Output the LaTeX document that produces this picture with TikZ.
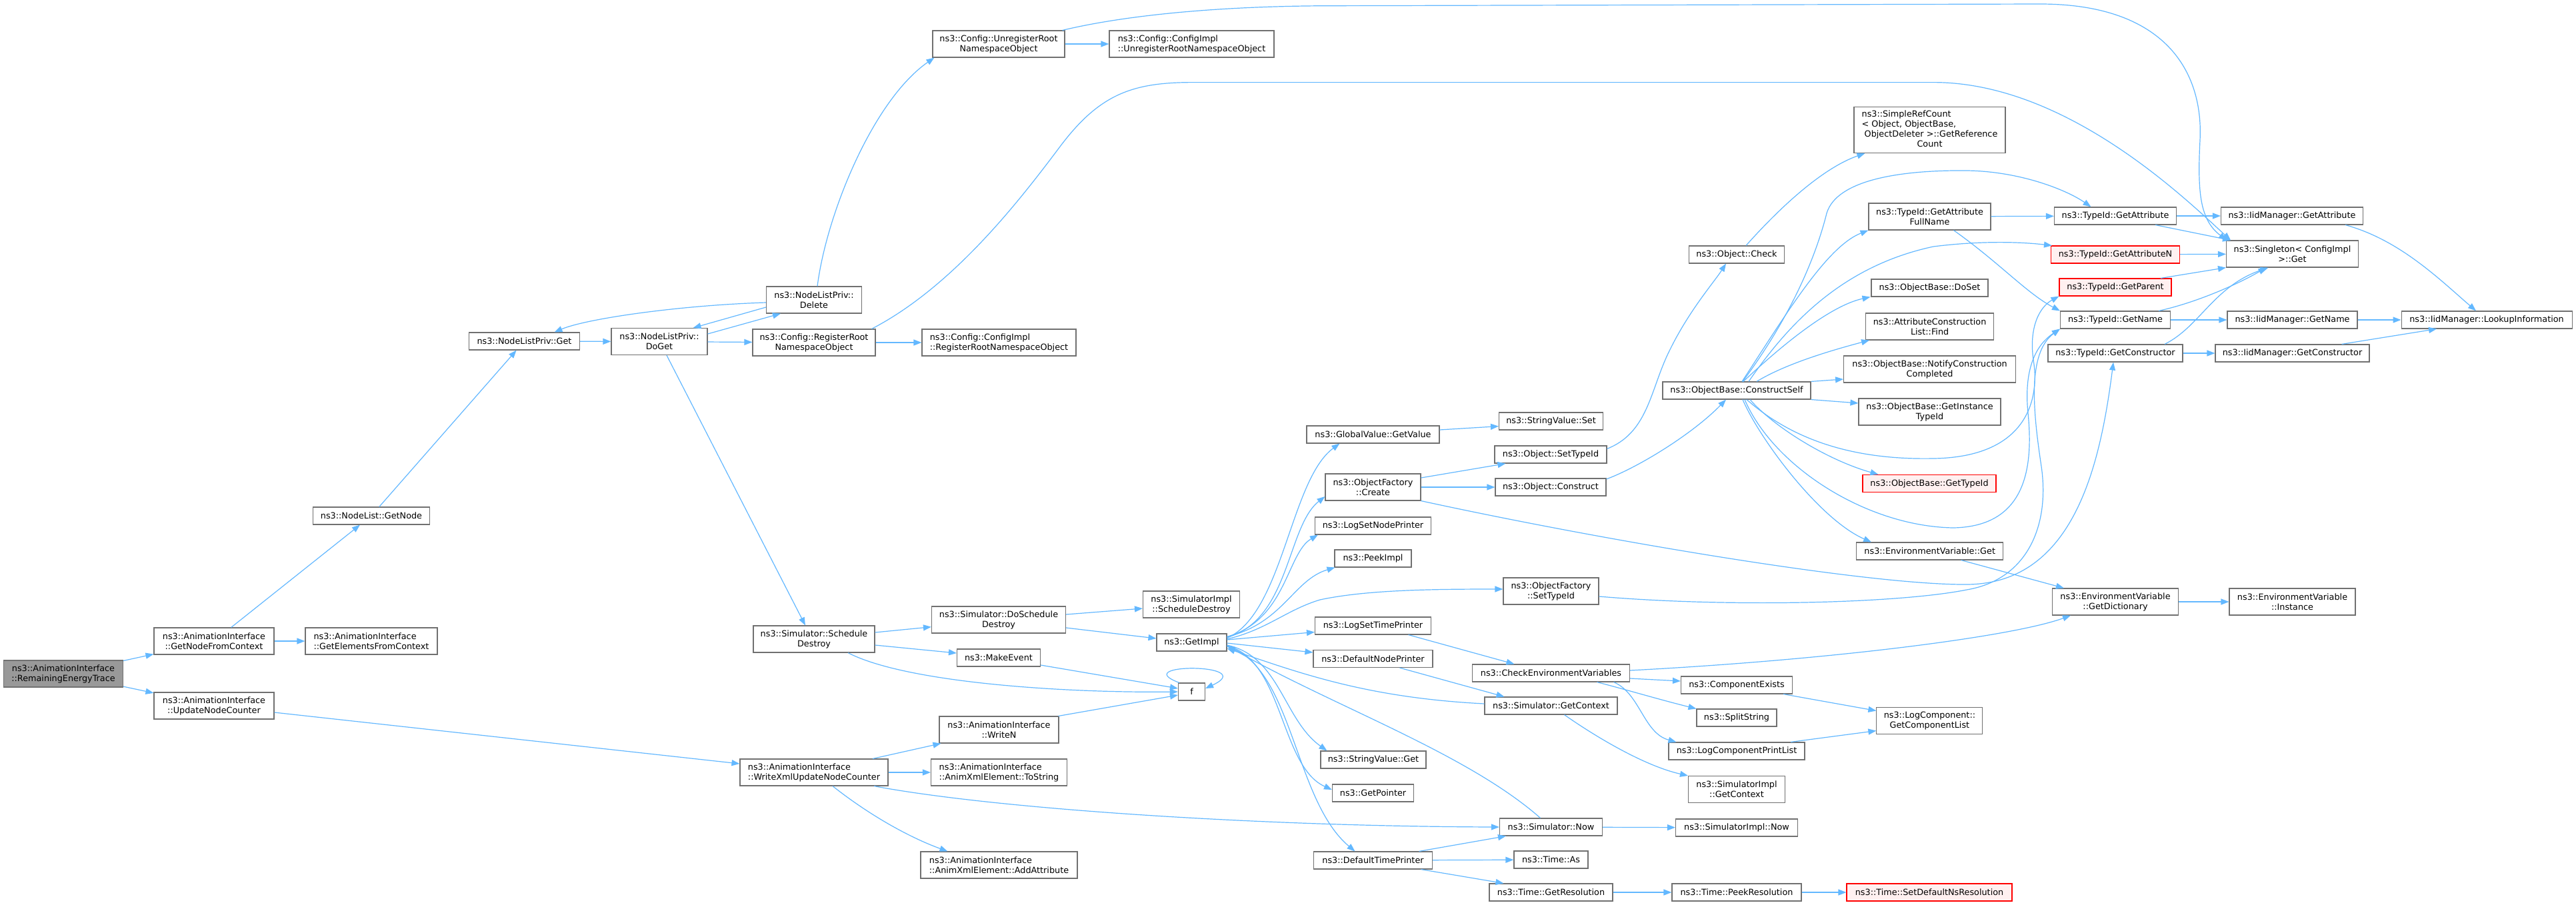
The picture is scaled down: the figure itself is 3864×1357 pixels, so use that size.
\documentclass[tikz,border=0pt]{standalone}
\usepackage{fontspec}
\setmainfont{DejaVu Sans}
\usetikzlibrary{arrows.meta}
\definecolor{edgec}{HTML}{63B8FF}
\definecolor{bordc}{HTML}{707070}
\definecolor{rootf}{HTML}{999999}
\definecolor{redf}{HTML}{FFF0F0}
\begin{document}
\begin{tikzpicture}[x=1pt,y=-1pt,
 nbox/.style={draw=bordc,fill=white,line width=1.1pt,inner sep=0pt,minimum height=26pt,align=center,font=\fontsize{12.8}{15}\selectfont},
 tw/.style={minimum height=40pt},
 lft/.style={align=left},
 rbox/.style={draw=red,fill=redf},
 mw/.style={minimum width=#1},
 edg/.style={draw=edgec,line width=1.2pt,-{Triangle[length=12pt,width=9pt]}}]
\useasboundingbox[fill=white] (0,0) rectangle (3864,1357);
% ---------------- nodes ----------------
\node[nbox,tw,mw=179pt,fill=rootf,draw=bordc] (ret) at (95,1011) {ns3::AnimationInterface\\::RemainingEnergyTrace};
\node[nbox,tw,mw=180pt] (gnfc) at (321,962) {ns3::AnimationInterface\\::GetNodeFromContext};
\node[nbox,tw,mw=180pt] (unc) at (321,1059) {ns3::AnimationInterface\\::UpdateNodeCounter};
\node[nbox,tw,lft,mw=198pt] (gefc) at (557,962) {ns3::AnimationInterface\\::GetElementsFromContext};
\node[nbox,mw=175pt] (getnode) at (557,774) {ns3::NodeList::GetNode};
\node[nbox,mw=166pt] (nlpget) at (786.5,512) {ns3::NodeListPriv::Get};
\node[nbox,tw,mw=144pt] (doget) at (989,512.6) {ns3::NodeListPriv::\\DoGet};
\node[nbox,tw,mw=143pt] (delete) at (1221,450) {ns3::NodeListPriv::\\Delete};
\node[nbox,tw,mw=184pt] (regroot) at (1221,514) {ns3::Config::RegisterRoot\\NamespaceObject};
\node[nbox,tw,mw=198pt] (unreg) at (1498,66) {ns3::Config::UnregisterRoot\\NamespaceObject};
\node[nbox,tw,lft,mw=247pt] (ciunreg) at (1787.5,66) {ns3::Config::ConfigImpl\\::UnregisterRootNamespaceObject};
\node[nbox,tw,lft,mw=231pt] (ciregroot) at (1498.5,514) {ns3::Config::ConfigImpl\\::RegisterRootNamespaceObject};
\node[nbox,tw,mw=182pt] (sdestroy) at (1221,959) {ns3::Simulator::Schedule\\Destroy};
\node[nbox,tw,lft,mw=222pt] (wxunc) at (1221,1159) {ns3::AnimationInterface\\::WriteXmlUpdateNodeCounter};
\node[nbox,tw,mw=201pt] (dosd) at (1498,930) {ns3::Simulator::DoSchedule\\Destroy};
\node[nbox,mw=125pt] (makeevent) at (1498,987) {ns3::MakeEvent};
\node[nbox,tw,mw=179pt] (writen) at (1498.5,1095) {ns3::AnimationInterface\\::WriteN};
\node[nbox,tw,lft,mw=204pt] (tostring) at (1498.5,1159) {ns3::AnimationInterface\\::AnimXmlElement::ToString};
\node[nbox,tw,lft,mw=235pt] (addattr) at (1498.5,1298) {ns3::AnimationInterface\\::AnimXmlElement::AddAttribute};
\node[nbox,tw,mw=145pt] (sisd) at (1787,907) {ns3::SimulatorImpl\\::ScheduleDestroy};
\node[nbox,mw=105pt] (getimpl) at (1787.5,964) {ns3::GetImpl};
\node[nbox,mw=40pt] (f) at (1787.5,1038) {f};
\node[nbox,mw=199pt] (gvget) at (2059.5,652) {ns3::GlobalValue::GetValue};
\node[nbox,tw,mw=143pt] (ofcreate) at (2059.5,731) {ns3::ObjectFactory\\::Create};
\node[nbox,mw=174pt] (lsnp) at (2059.5,789) {ns3::LogSetNodePrinter};
\node[nbox,mw=115pt] (peekimpl) at (2059.5,838) {ns3::PeekImpl};
\node[nbox,mw=174pt] (lstp) at (2059.5,939) {ns3::LogSetTimePrinter};
\node[nbox,mw=179pt] (dnp) at (2059.5,988.5) {ns3::DefaultNodePrinter};
\node[nbox,mw=158pt] (svget) at (2060,1140) {ns3::StringValue::Get};
\node[nbox,mw=122pt] (getptr) at (2059.5,1190) {ns3::GetPointer};
\node[nbox,mw=178pt] (dtp) at (2059.5,1291) {ns3::DefaultTimePrinter};
\node[nbox,mw=156pt] (svset) at (2326.5,632) {ns3::StringValue::Set};
\node[nbox,mw=168pt] (objsettid) at (2326,682) {ns3::Object::SetTypeId};
\node[nbox,mw=166pt] (objconstruct) at (2326,731) {ns3::Object::Construct};
\node[nbox,tw,mw=143pt] (ofsettid) at (2326.5,887) {ns3::ObjectFactory\\::SetTypeId};
\node[nbox,mw=236pt] (cev) at (2326.5,1010) {ns3::CheckEnvironmentVariables};
\node[nbox,mw=199pt] (simgetctx) at (2326.5,1059) {ns3::Simulator::GetContext};
\node[nbox,mw=154pt] (simnow) at (2326.5,1241) {ns3::Simulator::Now};
\node[nbox,mw=111pt] (timeas) at (2326.5,1290) {ns3::Time::As};
\node[nbox,mw=185pt] (timegetres) at (2326.5,1339) {ns3::Time::GetResolution};
\node[nbox,mw=143pt] (objcheck) at (2605,382) {ns3::Object::Check};
\node[nbox,mw=222pt] (constructself) at (2605,586) {ns3::ObjectBase::ConstructSelf};
\node[nbox,mw=167pt] (compexists) at (2605,1028) {ns3::ComponentExists};
\node[nbox,mw=120pt] (splitstring) at (2605,1077) {ns3::SplitString};
\node[nbox,mw=204pt] (lcpl) at (2605,1127) {ns3::LogComponentPrintList};
\node[nbox,tw,mw=145pt] (sigetctx) at (2605,1184.5) {ns3::SimulatorImpl\\::GetContext};
\node[nbox,mw=183pt] (sinow) at (2605,1242) {ns3::SimulatorImpl::Now};
\node[nbox,mw=194pt] (peekres) at (2605,1339) {ns3::Time::PeekResolution};
\node[nbox,mw=227pt,minimum height=69pt] (simplerc) at (2894.5,195) {\begin{tabular}{@{}l@{}}ns3::SimpleRefCount\\\textless{} Object, ObjectBase,\\\ ObjectDeleter \textgreater{}::GetReference\\\multicolumn{1}{@{}c@{}}{Count}\end{tabular}};
\node[nbox,tw,mw=183pt] (gafn) at (2894.5,325) {ns3::TypeId::GetAttribute\\FullName};
\node[nbox,mw=175pt] (doset) at (2894.5,432) {ns3::ObjectBase::DoSet};
\node[nbox,tw,mw=192pt] (aclfind) at (2894.6,490) {ns3::AttributeConstruction\\List::Find};
\node[nbox,tw,mw=258pt] (notify) at (2894.6,554) {ns3::ObjectBase::NotifyConstruction\\Completed};
\node[nbox,tw,mw=213pt] (getinst) at (2894.5,618) {ns3::ObjectBase::GetInstance\\TypeId};
\node[nbox,rbox,mw=200pt] (obgettid) at (2894,725.5) {ns3::ObjectBase::GetTypeId};
\node[nbox,mw=220pt] (envget) at (2894.7,827) {ns3::EnvironmentVariable::Get};
\node[nbox,tw,mw=159pt] (lcgcl) at (2894.4,1081.5) {ns3::LogComponent::\\GetComponentList};
\node[nbox,rbox,mw=248pt] (setdefres) at (2894,1339) {ns3::Time::SetDefaultNsResolution};
\node[nbox,mw=183pt] (tidgetattr) at (3173,324) {ns3::TypeId::GetAttribute};
\node[nbox,rbox,mw=193pt] (tidgetattrn) at (3173,382) {ns3::TypeId::GetAttributeN};
\node[nbox,rbox,mw=168pt] (tidgetparent) at (3173,431) {ns3::TypeId::GetParent};
\node[nbox,mw=165pt] (tidgetname) at (3173,480) {ns3::TypeId::GetName};
\node[nbox,mw=202pt] (tidgetctor) at (3173,530) {ns3::TypeId::GetConstructor};
\node[nbox,tw,mw=189pt] (envdict) at (3173,903) {ns3::EnvironmentVariable\\::GetDictionary};
\node[nbox,mw=213pt] (iidgetattr) at (3438,324) {ns3::IidManager::GetAttribute};
\node[nbox,tw,mw=198pt] (singleton) at (3438.5,381) {ns3::Singleton\textless{} ConfigImpl\\\textgreater{}::Get};
\node[nbox,mw=195pt] (iidgetname) at (3438.5,480) {ns3::IidManager::GetName};
\node[nbox,mw=231pt] (iidgetctor) at (3438.5,530) {ns3::IidManager::GetConstructor};
\node[nbox,tw,mw=189pt] (envinst) at (3438.5,903) {ns3::EnvironmentVariable\\::Instance};
\node[nbox,mw=256pt] (lookup) at (3730,480) {ns3::IidManager::LookupInformation};
% ---------------- edges ----------------
\draw[edg] (ret) -- (gnfc);
\draw[edg] (ret) -- (unc);
\draw[edg] (gnfc) -- (gefc);
\draw[edg] (gnfc) -- (getnode);
\draw[edg] (getnode) -- (nlpget);
\draw[edg] (nlpget) -- (doget);
\draw[edg] ([yshift=-9pt]doget.north east) -- ([xshift=22pt]delete.south west);
\draw[edg] ([yshift=-11pt]delete.west) -- ([xshift=-22pt]doget.north east);
\draw[edg] ([yshift=-4pt]delete.west) .. controls (1020,458) and (880,478) .. ([xshift=45pt]nlpget.north);
\draw[edg] ([xshift=5pt]delete.north) .. controls (1240,320) and (1310,150) .. ([xshift=3pt]unreg.south west);
\draw[edg] (doget) -- (regroot);
\draw[edg] ([xshift=11pt]doget.south) -- ([xshift=-13pt]sdestroy.north);
\draw[edg] (regroot) -- (ciregroot);
\draw[edg] ([xshift=-6pt]regroot.north east) .. controls (1430,430) and (1530,300) .. (1590,220) .. controls (1650,140) and (1700,123.6) .. (1790,123.6) -- (2900,123.6) .. controls (3100,123.6) and (3280,300) .. ([xshift=7pt]singleton.north west);
\draw[edg] (unreg) -- (ciunreg);
\draw[edg] ([xshift=-4pt]unreg.north east) .. controls (1700,20) and (1850,8.7) .. (2000,8.7) -- (3060,6) .. controls (3250,6) and (3305,110) .. (3300,210) .. controls (3296,290) and (3300,330) .. ([xshift=1pt]singleton.north west);
\draw[edg] ([yshift=10pt]sdestroy.east) -- ([yshift=-10.7pt]dosd.west);
\draw[edg] ([yshift=-9pt]sdestroy.east) -- ([yshift=7pt]makeevent.west);
\draw[edg] ([xshift=51pt]sdestroy.south) .. controls (1360,1025) and (1600,1040) .. (f.west);
\draw[edg] ([yshift=8pt]dosd.east) -- ([yshift=-6pt]sisd.west);
\draw[edg] ([yshift=-12pt]dosd.east) -- ([yshift=6pt]getimpl.west);
\draw[edg] ([yshift=-11pt]makeevent.east) -- ([yshift=5pt]f.west);
\draw[edg] ([xshift=2pt]f.north west) .. controls (1690,995) and (1890,995) .. ([yshift=5pt]f.east);
\draw[edg] ([xshift=-1pt]writen.north east) -- ([yshift=-5pt]f.west);
\draw[edg] ([xshift=88pt]wxunc.north) -- ([xshift=3pt]writen.south west);
\draw[edg] (wxunc) -- (tostring);
\draw[edg] ([xshift=28pt]wxunc.south) .. controls (1300,1220) and (1360,1255) .. ([xshift=41pt]addattr.north west);
\draw[edg] ([xshift=90pt]wxunc.south) .. controls (1500,1215) and (1900,1240) .. (simnow.west);
\draw[edg] ([yshift=-10pt]unc.east) -- ([yshift=13pt]wxunc.west);
% GetImpl fan
\draw[edg] ([yshift=-7pt]getimpl.north east) .. controls (1925,920) and (1935,720) .. ([xshift=50pt]gvget.south west);
\draw[edg] ([yshift=-6pt]getimpl.north east) .. controls (1935,930) and (1930,790) .. ([yshift=-14pt]ofcreate.west);
\draw[edg] ([yshift=-5pt]getimpl.north east) .. controls (1930,930) and (1930,830) .. ([xshift=5pt]lsnp.south west);
\draw[edg] ([yshift=-5pt]getimpl.north east) .. controls (1925,935) and (1940,870) .. ([xshift=1pt]peekimpl.south west);
\draw[edg] ([yshift=5pt]getimpl.east) .. controls (1900,945) and (1930,915) .. (1980,900) .. controls (2050,885) and (2150,884) .. ([yshift=3pt]ofsettid.west);
\draw[edg] ([yshift=4pt]getimpl.east) -- ([yshift=-9.5pt]lstp.west);
\draw[edg] ([yshift=-1pt]getimpl.east) -- ([yshift=9.5pt]dnp.west);
\draw[edg] ([yshift=-4pt]getimpl.east) .. controls (1920,985) and (1925,1080) .. ([xshift=10pt]svget.north west);
\draw[edg] ([yshift=-5pt]getimpl.east) .. controls (1925,990) and (1920,1150) .. ([yshift=5pt]getptr.west);
\draw[edg] ([yshift=-6pt]getimpl.east) .. controls (1940,1000) and (1940,1200) .. ([xshift=-27pt]dtp.north);
\draw[edg] ([yshift=3pt]simgetctx.west) .. controls (2050,1047) and (1950,1010) .. ([yshift=-9pt]getimpl.east);
\draw[edg] ([xshift=-16pt]simnow.north) .. controls (2200,1130) and (2000,1060) .. ([yshift=-5pt]getimpl.east);
% ObjectFactory etc
\draw[edg] ([yshift=14pt]ofcreate.east) -- ([xshift=17pt]objsettid.south west);
\draw[edg] (ofcreate) -- (objconstruct);
\draw[edg] (ofcreate.south east) .. controls (2400,810) and (2800,878) .. (2950,877) .. controls (3110,876) and (3150,700) .. ([xshift=-3pt]tidgetctor.south);
\draw[edg] ([yshift=-8pt]ofsettid.east) .. controls (2600,912) and (2850,905) .. (2950,885) .. controls (3040,870) and (3075,790) .. (3062,700) .. controls (3050,620) and (3040,530) .. (tidgetname.south west);
\draw[edg] ([yshift=7pt]gvget.east) -- ([yshift=-7.6pt]svset.west);
\draw[edg] ([yshift=-5pt]objsettid.north east) .. controls (2470,650) and (2475,590) .. (2500,535) .. controls (2530,470) and (2570,425) .. ([xshift=-16pt]objcheck.south);
\draw[edg] ([yshift=12pt]objconstruct.east) .. controls (2460,700) and (2540,650) .. ([xshift=-16pt]constructself.south);
\draw[edg] ([xshift=14pt]objcheck.north) .. controls (2680,300) and (2740,250) .. ([xshift=17pt]simplerc.south west);
% ConstructSelf fan
\draw[edg] ([xshift=8pt]constructself.north) .. controls (2680,470) and (2740,370) .. (gafn.south west);
\draw[edg] ([xshift=10pt]constructself.north) .. controls (2660,530) and (2740,460) .. ([xshift=-1pt]doset.south west);
\draw[edg] ([xshift=30pt]constructself.north) .. controls (2680,545) and (2750,525) .. ([xshift=6pt]aclfind.south west);
\draw[edg] (constructself.north east) -- ([yshift=-15pt]notify.west);
\draw[edg] (constructself.south east) -- ([yshift=13pt]getinst.west);
\draw[edg] ([xshift=20pt]constructself.south) .. controls (2660,640) and (2740,690) .. ([xshift=24pt]obgettid.north west);
\draw[edg] ([xshift=9pt]constructself.south) .. controls (2640,660) and (2730,780) .. ([xshift=23pt]envget.north west);
\draw[edg] ([xshift=15pt]constructself.south) .. controls (2700,670) and (2800,690) .. (2900,688) .. controls (3040,686) and (3060,600) .. (3050,540) .. controls (3043,490) and (3060,460) .. (tidgetparent.south west);
\draw[edg] ([xshift=12pt]constructself.south) .. controls (2660,700) and (2800,790) .. (2930,792) .. controls (3040,790) and (3050,700) .. (3042,620) .. controls (3036,560) and (3050,520) .. (tidgetname.south west);
\draw[edg] ([xshift=9pt]constructself.north) .. controls (2690,470) and (2725,380) .. (2740,320) .. controls (2755,270) and (2850,255) .. (2950,256) .. controls (3030,257) and (3100,285) .. ([xshift=-36.5pt]tidgetattr.north);
\draw[edg] ([xshift=18pt]constructself.north) .. controls (2680,490) and (2760,400) .. (2900,370) .. controls (2980,360) and (3040,364) .. ([xshift=2pt]tidgetattrn.north west);
% TypeId level
\draw[edg] (gafn) -- (tidgetattr);
\draw[edg] ([xshift=36pt]gafn.south) .. controls (3000,395) and (3040,440) .. (tidgetname.north west);
\draw[edg] (tidgetattr) -- (iidgetattr);
\draw[edg] ([xshift=60pt]tidgetattr.south) -- ([xshift=7pt]singleton.north west);
\draw[edg] (tidgetattrn) -- (singleton);
\draw[edg] ([xshift=68pt]tidgetparent.north) -- (singleton.south west);
\draw[edg] ([xshift=65pt]tidgetname.north) .. controls (3290,455) and (3350,430) .. ([xshift=-39pt]singleton.south);
\draw[edg] (tidgetname) -- (iidgetname);
\draw[edg] ([xshift=74pt]tidgetctor.north) .. controls (3300,490) and (3320,430) .. ([xshift=-36pt]singleton.south);
\draw[edg] (tidgetctor) -- (iidgetctor);
\draw[edg] ([xshift=80pt]iidgetattr.south) .. controls (3600,360) and (3660,420) .. ([xshift=-16pt]lookup.north);
\draw[edg] (iidgetname) -- (lookup);
\draw[edg] ([xshift=74pt]iidgetctor.north) -- ([xshift=-75pt]lookup.south);
% environment / logging
\draw[edg] ([xshift=47pt]envget.south) -- ([xshift=18pt]envdict.north west);
\draw[edg] (envdict) -- (envinst);
\draw[edg] ([yshift=4pt]cev.east) .. controls (2750,990) and (3020,955) .. ([xshift=28pt]envdict.south west);
\draw[edg] ([yshift=-8pt]cev.east) -- ([yshift=6pt]compexists.west);
\draw[edg] ([xshift=69pt]cev.south) .. controls (2440,1035) and (2490,1050) .. (splitstring.north west);
\draw[edg] ([xshift=94pt]cev.south) .. controls (2460,1040) and (2465,1100) .. ([xshift=12pt]lcpl.north west);
\draw[edg] ([xshift=70pt]compexists.south) -- ([yshift=15pt]lcgcl.west);
\draw[edg] ([xshift=81pt]lcpl.north) -- ([yshift=-15pt]lcgcl.west);
\draw[edg] ([xshift=20pt]simgetctx.south) .. controls (2400,1110) and (2470,1150) .. (sigetctx.north west);
\draw[edg] (simnow) -- (sinow);
\draw[edg] ([xshift=69pt]dtp.north) -- ([xshift=10pt]simnow.south west);
\draw[edg] (dtp) -- (timeas);
\draw[edg] ([xshift=72pt]dtp.south) -- ([xshift=22pt]timegetres.north west);
\draw[edg] (timegetres) -- (peekres);
\draw[edg] (peekres) -- (setdefres);
\draw[edg] ([xshift=53pt]lstp.south) -- ([xshift=-55pt]cev.north);
\draw[edg] ([xshift=40pt]dnp.south) -- ([xshift=-70pt]simgetctx.north);
\end{tikzpicture}
\end{document}
